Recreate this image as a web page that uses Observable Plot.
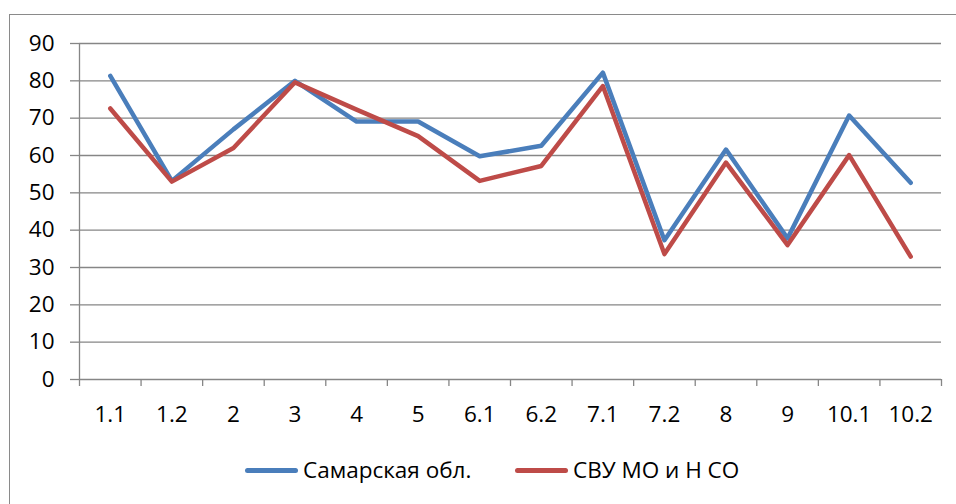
<!DOCTYPE html>
<html>
<head>
<meta charset="utf-8">
<script src="https://cdn.jsdelivr.net/npm/d3@7"></script>
<script src="https://cdn.jsdelivr.net/npm/@observablehq/plot@0.6"></script>
<style>
  html, body { margin: 0; padding: 0; background: #fff; }
  #wrap { position: relative; width: 956px; height: 504px; overflow: hidden; font-family: "Open Sans", sans-serif; }
  #frame { position: absolute; left: 9px; top: 14px; width: 980px; height: 520px; border: 1.3px solid #8a8a8a; box-sizing: border-box; }
  #chart { position: absolute; left: 0; top: 0; }
  .leg { position: absolute; top: 454px; height: 32px; display: flex; align-items: center; font-size: 22.5px; line-height: 32px; color: #000; }
  .leg .sw { width: 53px; height: 5px; border-radius: 3px; margin-right: 5px; }
</style>
</head>
<body>
<div id="wrap">
  <div id="frame"></div>
  <div id="chart"></div>
  <div id="legend"></div>
</div>
<script>
const categories = ["1.1","1.2","2","3","4","5","6.1","6.2","7.1","7.2","8","9","10.1","10.2"];
const samara = [81.3, 53.2, 67.0, 80.0, 69.1, 69.1, 59.8, 62.6, 82.2, 37.3, 61.6, 37.8, 70.7, 52.7];
const svu    = [72.6, 53.0, 62.0, 79.6, 72.3, 65.2, 53.2, 57.2, 78.6, 33.6, 58.1, 36.0, 60.1, 32.9];
const seriesNames = ["Самарская обл.", "СВУ МО и Н СО"];
const seriesColors = ["#4a7ebb", "#be4b48"];
const yTicks = [0,10,20,30,40,50,60,70,80,90];

const rows = [];
[samara, svu].forEach((vals, s) => vals.forEach((v, i) => rows.push({series: seriesNames[s], idx: i + 0.5, cat: categories[i], value: v})));
const centers = categories.map((c, i) => i + 0.5);
const bounds = d3.range(categories.length + 1);

const plot = Plot.plot({
  width: 956,
  height: 440,
  marginLeft: 79,
  marginRight: 15,
  marginTop: 43,
  marginBottom: 61,
  style: {fontFamily: "Open Sans, sans-serif", fontSize: "22.5px", color: "#000", background: "transparent"},
  x: {type: "linear", domain: [0, categories.length], axis: null},
  y: {domain: [0, 90], axis: null},
  color: {domain: seriesNames, range: seriesColors},
  marks: [
    Plot.ruleY(yTicks, {stroke: "#868686", strokeWidth: 1.3}),
    Plot.ruleX([0], {stroke: "#868686", strokeWidth: 1.3}),
    Plot.axisY({ticks: yTicks, tickSize: 9, tickPadding: 16, stroke: "#868686", strokeWidth: 1.3, label: null, fontSize: 22.5, fill: "#000"}),
    Plot.axisX({ticks: bounds, tickSize: 7, tickFormat: () => "", stroke: "#868686", strokeWidth: 1.3, label: null}),
    Plot.axisX({ticks: centers, tickSize: 0, tickPadding: 27, tickFormat: d => categories[Math.round(d - 0.5)], label: null, fontSize: 22.5, fill: "#000"}),
    Plot.line(rows, {x: "idx", y: "value", z: "series", stroke: "series", strokeWidth: 4.5, strokeLinecap: "round", strokeLinejoin: "round"})
  ]
});
document.getElementById("chart").appendChild(plot);

const legendPos = [245, 515];
const legend = document.getElementById("legend");
seriesNames.forEach((n, i) => {
  const d = document.createElement("div");
  d.className = "leg";
  d.style.left = legendPos[i] + "px";
  d.innerHTML = `<div class="sw" style="background:${seriesColors[i]}"></div><span>${n}</span>`;
  legend.appendChild(d);
});
</script>
</body>
</html>
